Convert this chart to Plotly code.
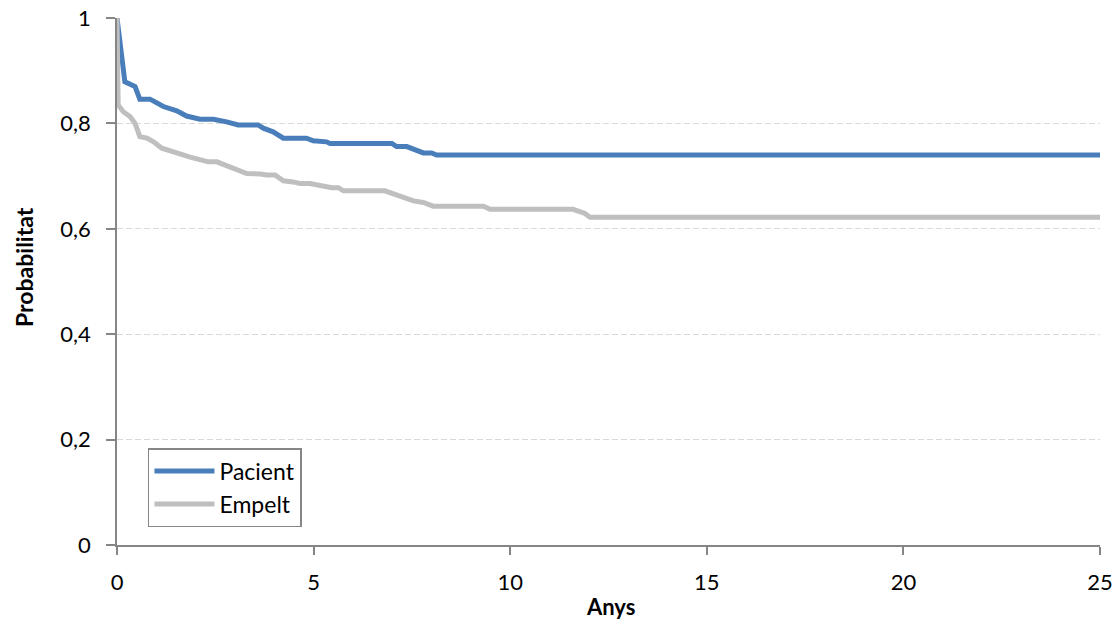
import plotly.graph_objects as go

pacient_x = [0, 0.16, 0.2, 0.46, 0.58, 0.84, 1.18, 1.52, 1.77, 2.11, 2.45, 2.79, 3.08, 3.59, 3.72, 3.97,
             4.23, 4.82, 4.99, 5.33, 5.42, 6.99, 7.11, 7.37, 7.58, 7.79, 8.0, 8.13, 25]
pacient_y = [1.0, 0.898, 0.879, 0.870, 0.846, 0.846, 0.832, 0.824, 0.814, 0.808, 0.808, 0.803, 0.797, 0.797,
             0.791, 0.784, 0.772, 0.772, 0.767, 0.765, 0.762, 0.762, 0.756, 0.756, 0.751, 0.744, 0.744, 0.740, 0.740]

empelt_x = [0, 0.03, 0.16, 0.33, 0.46, 0.58, 0.76, 0.93, 1.14, 1.48, 1.6, 1.86, 2.11, 2.32, 2.54, 2.75, 2.96,
            3.13, 3.3, 3.64, 3.81, 4.02, 4.23, 4.48, 4.65, 4.91, 5.12, 5.46, 5.63, 5.76, 6.81, 6.99, 7.15, 7.32,
            7.54, 7.79, 7.92, 8.04, 9.32, 9.49, 11.6, 11.78, 11.9, 12.03, 25]
empelt_y = [1.0, 0.835, 0.822, 0.813, 0.800, 0.775, 0.772, 0.765, 0.753, 0.743, 0.742, 0.736, 0.732, 0.727,
            0.727, 0.721, 0.715, 0.708, 0.705, 0.704, 0.702, 0.702, 0.691, 0.689, 0.686, 0.686, 0.683, 0.678,
            0.678, 0.672, 0.672, 0.667, 0.664, 0.660, 0.653, 0.650, 0.647, 0.643, 0.643, 0.637, 0.637, 0.631,
            0.629, 0.622, 0.622]

x_ticks = [0, 5, 10, 15, 20, 25]
y_ticks = [0, 0.2, 0.4, 0.6, 0.8, 1]

FONT = "Lato, 'Open Sans', sans-serif"
AXIS = "#868686"

fig = go.Figure()
fig.add_trace(go.Scatter(x=pacient_x, y=pacient_y, mode="lines", name="Pacient",
                         line=dict(color="#4a7ebb", width=5)))
fig.add_trace(go.Scatter(x=empelt_x, y=empelt_y, mode="lines", name="Empelt",
                         line=dict(color="#bfbfbf", width=5)))

# page body has an 8px margin; figure is sized to fill the rest of the window
fig.update_layout(
    width=1112, height=614,
    margin=dict(l=109, r=20, t=10, b=77, autoexpand=False),
    paper_bgcolor="white", plot_bgcolor="white",
    separators=",.",
    font=dict(family=FONT, size=22, color="black"),
    showlegend=True,
    legend=dict(x=0.0315, y=0.034, xanchor="left", yanchor="bottom",
                bordercolor=AXIS, borderwidth=1.5, bgcolor="white",
                font=dict(family=FONT, size=23, color="black"),
                tracegroupgap=2, itemwidth=60),
    xaxis=dict(range=[0, 25], tickvals=x_ticks, showgrid=False, zeroline=False,
               showline=True, linecolor=AXIS, linewidth=1.5, automargin=False,
               ticks="outside", ticklen=8, tickcolor=AXIS, tickwidth=1.5,
               ticklabelstandoff=9, ticklabeloverflow="allow"),
    yaxis=dict(range=[0, 1], tickvals=y_ticks, tickformat=".1~f",
               showgrid=True, gridcolor="#d9d9d9", griddash="6px,3px", gridwidth=1,
               zeroline=False, showline=True, linecolor=AXIS, linewidth=1.5, automargin=False,
               ticks="outside", ticklen=9, tickcolor=AXIS, tickwidth=1.5,
               ticklabelstandoff=11, ticklabeloverflow="allow"),
    annotations=[
        dict(text="<b>Probabilitat</b>", xref="paper", yref="paper",
             x=(24 - 117) / 983, y=(545 - 267) / 527, textangle=-90,
             showarrow=False, xanchor="center", yanchor="middle",
             font=dict(family=FONT, size=23, color="black")),
        dict(text="<b>Anys</b>", xref="paper", yref="paper",
             x=(610 - 117) / 983, y=(545 - 606) / 527,
             showarrow=False, xanchor="center", yanchor="middle",
             font=dict(family=FONT, size=22, color="black")),
    ],
)

fig.write_html("out.html")
